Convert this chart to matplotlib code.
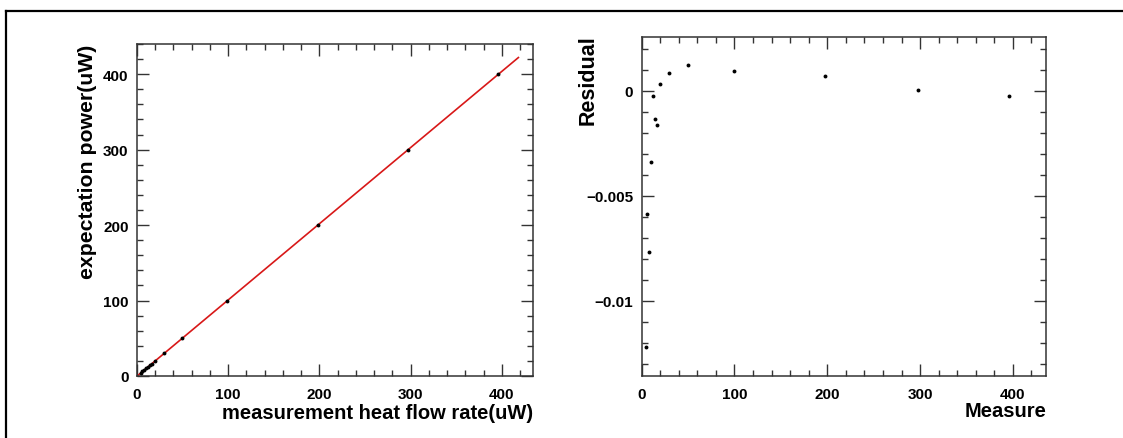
import numpy as np
import matplotlib
matplotlib.use("Agg")
import matplotlib.pyplot as plt
from matplotlib.ticker import MultipleLocator, FuncFormatter
from matplotlib.lines import Line2D

plt.rcParams['font.family'] = ['Liberation Sans', 'DejaVu Sans']
plt.rcParams['font.weight'] = 'bold'

# data
expected = [4, 6, 8, 10, 12, 14, 16, 20, 30, 50, 100, 200, 300, 400]
measured = [4.3, 5.7, 7.9, 10.0, 12.2, 14.3, 16.1, 19.7, 29.8, 49.6, 99.1, 197.9, 297.4, 396.1]
residual = [-0.01223, -0.00585, -0.00767, -0.00339, -0.00025, -0.00135, -0.00162,
            0.00032, 0.00086, 0.00124, 0.00094, 0.0007, 0.00003, -0.00024]
fit_range = [0, 418]

slope, icpt = np.polyfit(measured, expected, 1)

fig = plt.figure(figsize=(11.23, 4.39), dpi=100)

# outer frame (cropped on right and bottom)
fig.add_artist(Line2D([6 / 1123, 1], [1 - 12 / 439, 1 - 12 / 439], color='black', lw=1.6,
                      transform=fig.transFigure))
fig.add_artist(Line2D([6 / 1123, 6 / 1123], [0, 1 - 12 / 439], color='black', lw=1.6,
                      transform=fig.transFigure))


def root_style(ax):
    ax.tick_params(which='both', direction='in', top=True, right=True, width=1.0,
                   color='#333333', labelsize=11)
    ax.tick_params(axis='x', pad=8)
    ax.tick_params(axis='y', pad=6)
    ax.tick_params(which='major', length=8.5)
    ax.tick_params(which='minor', length=4.5)
    for s in ax.spines.values():
        s.set_linewidth(1.1)
        s.set_color('#333333')
    for lab in ax.get_xticklabels() + ax.get_yticklabels():
        lab.set_fontweight('bold')


# left panel
ax1 = fig.add_axes([137 / 1123, 1 - 377 / 439, (533 - 137) / 1123, (377 - 45) / 439])
fx = np.array(fit_range)
ax1.plot(fx, slope * fx + icpt, color='#d81818', lw=1.2, zorder=2)
ax1.plot(measured, expected, 'o', color='black', ms=2.8, mew=0, zorder=3)
ax1.set_xlim(0, 434)
ax1.set_ylim(0, 440)
ax1.xaxis.set_major_locator(MultipleLocator(100))
ax1.xaxis.set_minor_locator(MultipleLocator(20))
ax1.yaxis.set_major_locator(MultipleLocator(100))
ax1.yaxis.set_minor_locator(MultipleLocator(20))
root_style(ax1)
ax1.set_xlabel('measurement heat flow rate(uW)', loc='right', fontsize=14.5,
               fontweight='bold')
ax1.xaxis.set_label_coords(1.0, -0.080)
ax1.set_ylabel('expectation power(uW)', loc='top', fontsize=15.3,
               fontweight='bold')
ax1.yaxis.set_label_coords(-0.101, 1.0)

# right panel
ax2 = fig.add_axes([641.7 / 1123, 1 - 376.7 / 439, (1046 - 641.7) / 1123, (376.7 - 37.7) / 439])
ax2.plot(measured, residual, 'o', color='black', ms=2.8, mew=0)
ax2.set_xlim(0, 435.7)
ax2.set_ylim(-0.01358, 0.00259)
ax2.xaxis.set_major_locator(MultipleLocator(100))
ax2.xaxis.set_minor_locator(MultipleLocator(20))
ax2.yaxis.set_major_locator(MultipleLocator(0.005))
ax2.yaxis.set_minor_locator(MultipleLocator(0.001))
ax2.yaxis.set_major_formatter(FuncFormatter(
    lambda v, p: '0' if abs(v) < 1e-9 else ('%g' % v).replace('-', '\u2212')))
root_style(ax2)
ax2.set_xlabel('Measure', loc='right', fontsize=14.5, fontweight='bold')
ax2.xaxis.set_label_coords(1.0, -0.075)
ax2.set_ylabel('Residual', loc='top', fontsize=15.5, fontweight='bold')
ax2.yaxis.set_label_coords(-0.106, 1.008)

fig.savefig('out.png', dpi=100)
